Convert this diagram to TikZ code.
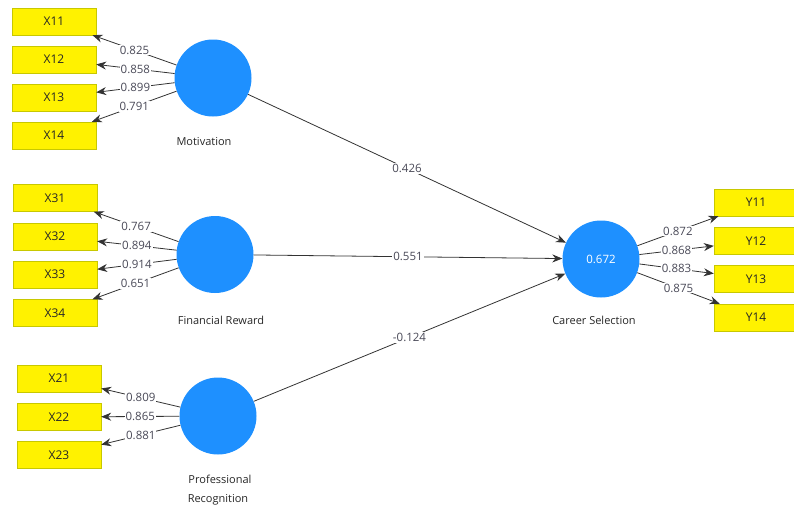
\documentclass[tikz,border=0pt]{standalone}
\usepackage{fontspec}
\setmainfont{Open Sans}
\usetikzlibrary{arrows.meta}
\definecolor{lvblue}{HTML}{1E90FF}
\definecolor{boxline}{HTML}{C8C800}
\definecolor{coeftext}{HTML}{4A4A58}
\tikzset{
  ind/.style={draw=boxline, fill=yellow, minimum width=84pt, minimum height=27pt,
    inner sep=0pt, font=\fontsize{12}{14}\selectfont, text=black!85},
  lv/.style={circle, fill=lvblue, minimum size=77pt, inner sep=0pt,
    font=\fontsize{11.5}{13}\selectfont, text=white},
  lvname/.style={font=\fontsize{11}{13}\selectfont, text=black!85},
  coef/.style={fill=white, inner sep=1pt, font=\fontsize{11.5}{13}\selectfont, text=coeftext},
  link/.style={draw=black!80, line width=0.8pt, -{Stealth[length=10pt,width=8pt]}}
}
\begin{document}
\begin{tikzpicture}[x=1pt,y=-1pt]
\useasboundingbox (0,0) rectangle (794,506);

% latent variables
\node[lv] (mot) at (213,78) {};
\node[lv] (fin) at (215,254.5) {};
\node[lv] (pro) at (218,416) {};
\node[lv] (car) at (601,259) {0.672};

\node[lvname] (motname) at (204,142) {Motivation};
\node[lvname] (finname) at (221,320) {Financial Reward};
\node[lvname] (proname) at (220,479) {Professional};
\node[lvname] (proname2) at (218,500) {Recognition};
\node[lvname] (carname) at (594,320) {Career Selection};

% indicators
\node[ind] (x11) at (54,21.5) {X11};
\node[ind] (x12) at (54,59.5) {X12};
\node[ind] (x13) at (54,97.5) {X13};
\node[ind] (x14) at (54,135.5) {X14};

\node[ind] (x31) at (55,198) {X31};
\node[ind] (x32) at (55,236.5) {X32};
\node[ind] (x33) at (55,274.5) {X33};
\node[ind] (x34) at (55,313) {X34};

\node[ind] (x21) at (59,378.5) {X21};
\node[ind] (x22) at (59,417) {X22};
\node[ind] (x23) at (59,455) {X23};

\node[ind] (y11) at (756,202.5) {Y11};
\node[ind] (y12) at (756,241) {Y12};
\node[ind] (y13) at (756,279) {Y13};
\node[ind] (y14) at (756,317.5) {Y14};

% outer loadings
\draw[link] (mot) -- node[coef] {0.825} (x11);
\draw[link] (mot) -- node[coef] {0.858} (x12);
\draw[link] (mot) -- node[coef] {0.899} (x13);
\draw[link] (mot) -- node[coef] {0.791} (x14);

\draw[link] (fin) -- node[coef] {0.767} (x31);
\draw[link] (fin) -- node[coef] {0.894} (x32);
\draw[link] (fin) -- node[coef] {0.914} (x33);
\draw[link] (fin) -- node[coef] {0.651} (x34);

\draw[link] (pro) -- node[coef] {0.809} (x21);
\draw[link] (pro) -- node[coef] {0.865} (x22);
\draw[link] (pro) -- node[coef] {0.881} (x23);

\draw[link] (car) -- node[coef] {0.872} (y11);
\draw[link] (car) -- node[coef] {0.868} (y12);
\draw[link] (car) -- node[coef] {0.883} (y13);
\draw[link] (car) -- node[coef] {0.875} (y14);

% path coefficients
\draw[link] (mot) -- node[coef] {0.426} (car);
\draw[link] (fin) -- node[coef] {0.551} (car);
\draw[link] (pro) -- node[coef] {-0.124} (car);
\end{tikzpicture}
\end{document}
